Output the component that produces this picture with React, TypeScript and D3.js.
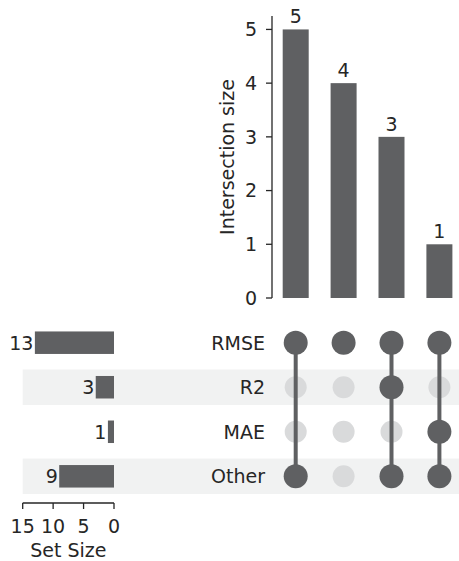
import React from "react";
import * as d3 from "d3";

const setNames = ["RMSE", "R2", "MAE", "Other"];
const setSizes = [13, 3, 1, 9];
const intersectionSizes = [5, 4, 3, 1];
const memberships = [
  ["RMSE", "Other"],
  ["RMSE"],
  ["RMSE", "R2", "Other"],
  ["RMSE", "MAE", "Other"],
];
const intersectionTicks = [0, 1, 2, 3, 4, 5];
const setSizeTicks = [15, 10, 5, 0];

const W = 459;
const H = 561;
const DARK = "#5f6062";
const LIGHT = "#d9dadb";
const BAND = "#f1f2f2";
const TEXT = "#262626";
const FONT = "DejaVu Sans, sans-serif";
const FS = 19;

export default function App() {
  const cols = intersectionSizes.map((_, i) => i);
  const x = d3.scalePoint<number>().domain(cols).range([295.7, 439.4]);
  const y = d3.scaleLinear().domain([0, 5.25]).range([298, 16]);
  const row = d3.scalePoint<string>().domain(setNames).range([342.7, 476.3]);
  const sx = d3.scaleLinear().domain([0, 15]).range([114, 22.7]);
  const barW = 26;
  const setBarH = 22.5;
  const bandH = 35.5;
  const axisX = 272;
  const spineY = 503;

  return (
    <svg
      width={W}
      height={H}
      style={{ position: "absolute", left: 0, top: 0, background: "#fff" }}
      fontFamily={FONT}
      fontSize={FS}
      fill={TEXT}
    >
      {/* shaded bands */}
      {setNames.map((s, i) =>
        i % 2 === 1 ? (
          <rect key={"band" + s} x={sx(15)} y={row(s)! - bandH / 2} width={W - sx(15)} height={bandH} fill={BAND} />
        ) : null
      )}

      {/* intersection bars */}
      {intersectionSizes.map((v, i) => (
        <g key={"ib" + i}>
          <rect x={x(i)! - barW / 2} y={y(v)} width={barW} height={y(0) - y(v)} fill={DARK} />
          <text x={x(i)} y={y(v) - 6} textAnchor="middle">{v}</text>
        </g>
      ))}

      {/* y axis */}
      <line x1={axisX} x2={axisX} y1={y(5.25)} y2={y(0)} stroke={TEXT} strokeWidth={1.3} />
      {intersectionTicks.map((t) => (
        <g key={"yt" + t}>
          <line x1={axisX - 6} x2={axisX} y1={y(t)} y2={y(t)} stroke={TEXT} strokeWidth={1.3} />
          <text x={axisX - 15} y={y(t)} dy="0.36em" textAnchor="end">{t}</text>
        </g>
      ))}
      <text
        transform={`translate(234,${(y(0) + y(5.25)) / 2}) rotate(-90)`}
        textAnchor="middle"
      >
        Intersection size
      </text>

      {/* matrix: inactive dots */}
      {memberships.map((m, i) =>
        setNames.map((s) =>
          m.includes(s) ? null : (
            <circle key={"in" + i + s} cx={x(i)} cy={row(s)} r={11} fill={LIGHT} />
          )
        )
      )}
      {/* matrix lines */}
      {memberships.map((m, i) => {
        const ys = m.map((s) => row(s)!);
        return (
          <line key={"ml" + i} x1={x(i)} x2={x(i)} y1={d3.min(ys)} y2={d3.max(ys)} stroke={DARK} strokeWidth={4} />
        );
      })}
      {/* active dots */}
      {memberships.map((m, i) =>
        m.map((s) => <circle key={"ac" + i + s} cx={x(i)} cy={row(s)} r={12} fill={DARK} />)
      )}

      {/* set labels */}
      {setNames.map((s) => (
        <text key={"sl" + s} x={265} y={row(s)} dy="0.36em" textAnchor="end">{s}</text>
      ))}

      {/* set size bars */}
      {setNames.map((s, i) => (
        <g key={"sb" + s}>
          <rect x={sx(setSizes[i])} y={row(s)! - setBarH / 2} width={sx(0) - sx(setSizes[i])} height={setBarH} fill={DARK} />
          <text x={sx(setSizes[i]) - 1.5} y={row(s)} dy="0.36em" textAnchor="end">{setSizes[i]}</text>
        </g>
      ))}

      {/* set size axis */}
      <line x1={sx(15)} x2={sx(0)} y1={spineY} y2={spineY} stroke={TEXT} strokeWidth={1.3} />
      {setSizeTicks.map((t) => (
        <g key={"st" + t}>
          <line x1={sx(t)} x2={sx(t)} y1={spineY} y2={spineY + 6} stroke={TEXT} strokeWidth={1.3} />
          <text x={sx(t)} y={533} textAnchor="middle">{t}</text>
        </g>
      ))}
      <text x={(sx(15) + sx(0)) / 2} y={557} textAnchor="middle">Set Size</text>
    </svg>
  );
}
